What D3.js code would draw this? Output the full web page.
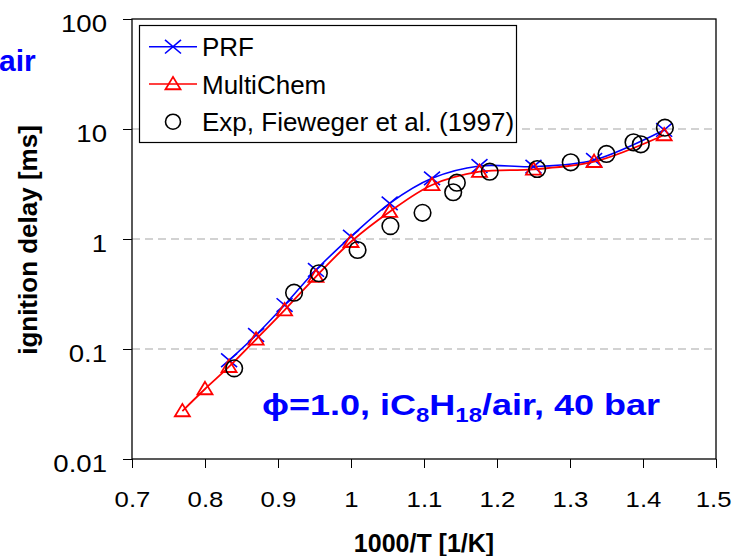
<!DOCTYPE html>
<html>
<head>
<meta charset="utf-8">
<script src="https://cdn.jsdelivr.net/npm/d3@7"></script>
<style>
  body { margin: 0; background: #fff; }
  svg { display: block; font-family: Arial, "Liberation Sans", sans-serif; }
</style>
</head>
<body>
<svg id="chart" width="733" height="556"></svg>
<script>
// data (x = 1000/T, y = ignition delay in ms)
const prfX = [0.833, 0.870, 0.909, 0.952, 1.0, 1.053, 1.111, 1.176, 1.25, 1.333, 1.429];
const prfY = [0.079, 0.134, 0.251, 0.523, 1.05, 2.11, 3.56, 4.61, 4.55, 5.23, 9.8];

const multiX = [0.769, 0.8, 0.833, 0.870, 0.909, 0.952, 1.0, 1.053, 1.111, 1.176, 1.25, 1.333, 1.429];
const multiY = [0.0273, 0.0433, 0.069, 0.1225, 0.226, 0.455, 0.944, 1.77, 3.1, 4.09, 4.3, 5.04, 8.82];

const expX = [0.840, 0.922, 0.956, 1.009, 1.054, 1.098, 1.140, 1.145, 1.190, 1.255, 1.301, 1.350, 1.387, 1.397, 1.430];
const expY = [0.0667, 0.325, 0.488, 0.794, 1.31, 1.73, 2.66, 3.25, 4.09, 4.33, 4.98, 5.93, 7.57, 7.26, 10.28];

const xTicks = [0.7, 0.8, 0.9, 1, 1.1, 1.2, 1.3, 1.4, 1.5];
const yTicks = [0.01, 0.1, 1, 10, 100];
const gridVals = [0.1, 1, 10];

const legendNames = ["PRF", "MultiChem", "Exp, Fieweger et al. (1997)"];

// layout
const plot = { left: 132, right: 716, top: 19, bottom: 459 };

const svg = d3.select("#chart");

const x = d3.scaleLinear().domain([0.7, 1.5]).range([plot.left, plot.right]);
const y = d3.scaleLog().domain([0.01, 100]).range([plot.bottom, plot.top]);

const zip = (xs, ys) => xs.map((d, i) => ({ x: d, y: ys[i] }));
const prf = zip(prfX, prfY),
  multi = zip(multiX, multiY),
  exp = zip(expX, expY);

// grid
svg.append("g")
  .selectAll("line")
  .data(gridVals)
  .join("line")
  .attr("x1", plot.left)
  .attr("x2", plot.right)
  .attr("y1", (d) => y(d))
  .attr("y2", (d) => y(d))
  .attr("stroke", "#a6a6a6")
  .attr("stroke-width", 1.2)
  .attr("stroke-dasharray", "8,5");

// axes
const xAxis = svg.append("g")
  .attr("transform", `translate(0,${plot.bottom})`)
  .call(d3.axisBottom(x).tickValues(xTicks).tickSize(9).tickFormat(d3.format("")));
const yAxis = svg.append("g")
  .attr("transform", `translate(${plot.left},0)`)
  .call(d3.axisLeft(y).tickValues(yTicks).tickSize(9).tickFormat((d) => String(d)));

[xAxis, yAxis].forEach((a) => {
  a.select(".domain").remove();
  a.selectAll(".tick line").attr("stroke", "#000").attr("stroke-width", 1);
  a.selectAll("text").attr("fill", "#000").style("font-size", "23px");
});

xAxis.selectAll(".tick text")
  .attr("y", 0)
  .attr("dy", 0)
  .attr("transform", "translate(0,48) scale(1.12,1)");

// last label sits on the page edge, keep it inside
xAxis.selectAll(".tick text")
  .filter((d) => d === 1.5)
  .attr("text-anchor", "end")
  .attr("transform", "translate(15,48) scale(1.12,1)");

yAxis.selectAll(".tick text")
  .attr("x", 0)
  .attr("dy", 0)
  .attr("text-anchor", "end")
  .attr("transform", "translate(-25,12) scale(1.2,1)");

// frame
svg.append("rect")
  .attr("x", plot.left)
  .attr("y", plot.top)
  .attr("width", plot.right - plot.left)
  .attr("height", plot.bottom - plot.top)
  .attr("fill", "none")
  .attr("stroke", "#000")
  .attr("stroke-width", 1.3);

// series
const line = d3.line()
  .x((d) => x(d.x))
  .y((d) => y(d.y))
  .curve(d3.curveCatmullRom.alpha(0.5));

const xMark = (s) => `M${-s},${-s * 0.85}L${s},${s * 0.85}M${-s},${s * 0.85}L${s},${-s * 0.85}`;
const triMark = (s) => `M0,${-s * 0.95}L${s},${s * 0.7}L${-s},${s * 0.7}Z`;

const series = svg.append("g");

series.append("path")
  .datum(prf)
  .attr("d", line)
  .attr("fill", "none")
  .attr("stroke", "#0000ff")
  .attr("stroke-width", 1.6);
series.append("g")
  .selectAll("path")
  .data(prf)
  .join("path")
  .attr("transform", (d) => `translate(${x(d.x)},${y(d.y)})`)
  .attr("d", xMark(8))
  .attr("fill", "none")
  .attr("stroke", "#0000ff")
  .attr("stroke-width", 1.6);

series.append("path")
  .datum(multi)
  .attr("d", line)
  .attr("fill", "none")
  .attr("stroke", "#ff0000")
  .attr("stroke-width", 1.8);
series.append("g")
  .selectAll("path")
  .data(multi)
  .join("path")
  .attr("transform", (d) => `translate(${x(d.x)},${y(d.y)})`)
  .attr("d", triMark(7.5))
  .attr("fill", "none")
  .attr("stroke", "#ff0000")
  .attr("stroke-width", 1.8);

series.append("g")
  .selectAll("circle")
  .data(exp)
  .join("circle")
  .attr("cx", (d) => x(d.x))
  .attr("cy", (d) => y(d.y))
  .attr("r", 8.3)
  .attr("fill", "none")
  .attr("stroke", "#000")
  .attr("stroke-width", 1.6);

// legend
const lg = svg.append("g");
lg.append("rect")
  .attr("x", 139.5)
  .attr("y", 25.5)
  .attr("width", 377)
  .attr("height", 117)
  .attr("fill", "#fff")
  .attr("stroke", "#000")
  .attr("stroke-width", 1.2);

const rowY = [46.7, 84, 121.7];
const items = lg.selectAll("g.item")
  .data(legendNames)
  .join("g")
  .attr("class", "item")
  .attr("transform", (d, i) => `translate(0,${rowY[i]})`);

items.append("text")
  .attr("x", 202)
  .attr("y", 9.5)
  .style("font-size", "26px")
  .attr("fill", "#000")
  .text((d) => d);

const lgColors = ["#0000ff", "#ff0000"];
items.filter((d, i) => i < 2)
  .append("line")
  .attr("x1", 149)
  .attr("x2", 197)
  .attr("stroke", (d, i) => lgColors[i])
  .attr("stroke-width", 1.6);
items.filter((d, i) => i === 0)
  .append("path")
  .attr("transform", "translate(173,0)")
  .attr("d", xMark(8))
  .attr("fill", "none")
  .attr("stroke", "#0000ff")
  .attr("stroke-width", 1.6);
items.filter((d, i) => i === 1)
  .append("path")
  .attr("transform", "translate(173,0)")
  .attr("d", triMark(7.5))
  .attr("fill", "none")
  .attr("stroke", "#ff0000")
  .attr("stroke-width", 1.8);
items.filter((d, i) => i === 2)
  .append("circle")
  .attr("cx", 173)
  .attr("r", 7.5)
  .attr("fill", "none")
  .attr("stroke", "#000")
  .attr("stroke-width", 1.6);

// axis titles
svg.append("text")
  .attr("x", (plot.left + plot.right) / 2)
  .attr("y", 552)
  .attr("text-anchor", "middle")
  .style("font-size", "25px")
  .style("font-weight", "bold")
  .text("1000/T [1/K]");

svg.append("text")
  .attr("transform", "translate(37,240) rotate(-90)")
  .attr("text-anchor", "middle")
  .style("font-size", "26px")
  .style("font-weight", "bold")
  .text("ignition delay [ms]");

// annotations
svg.append("text")
  .attr("x", -1)
  .attr("y", 71)
  .attr("fill", "#0000ff")
  .style("font-size", "30px")
  .style("font-weight", "bold")
  .text("air");

const note = svg.append("text")
  .attr("transform", "translate(262,415) scale(1.2,1)")
  .attr("fill", "#0000ff")
  .style("font-size", "30px")
  .style("font-weight", "bold");
note.append("tspan").text("\u03d5=1.0, iC");
note.append("tspan").attr("dy", 7).style("font-size", "20px").text("8");
note.append("tspan").attr("dy", -7).text("H");
note.append("tspan").attr("dy", 7).style("font-size", "20px").text("18");
note.append("tspan").attr("dy", -7).text("/air, 40 bar");
</script>
</body>
</html>
